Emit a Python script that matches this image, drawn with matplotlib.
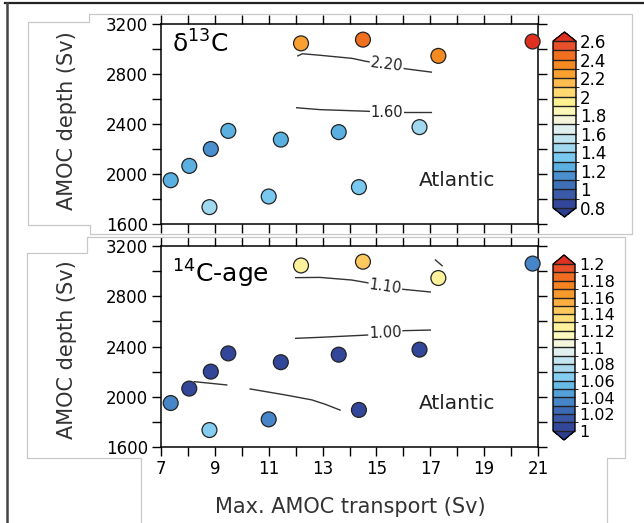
import numpy as np
import matplotlib
matplotlib.use("Agg")
import matplotlib.pyplot as plt
from matplotlib.colors import ListedColormap, LinearSegmentedColormap, BoundaryNorm
from matplotlib.lines import Line2D
from matplotlib.ticker import FormatStrFormatter

# model points (shared positions)
amoc_transport = [7.36, 8.05, 8.8, 8.85, 9.5, 11.45, 11.0, 12.2, 14.5, 17.3, 20.8, 13.6, 16.6, 14.35]
amoc_depth = [1950, 2065, 1735, 2200, 2345, 2275, 1820, 3045, 3075, 2945, 3060, 2335, 2375, 1895]

# colour values
d13c = [1.25, 1.25, 1.45, 1.15, 1.25, 1.25, 1.35, 2.25, 2.45, 2.35, 2.65, 1.25, 1.45, 1.35]
c14_age = [1.035, 1.005, 1.065, 1.005, 1.005, 1.005, 1.035, 1.125, 1.14, 1.125, 1.035, 1.005, 1.005, 1.005]

d13c_levels = np.round(np.arange(0.8, 2.61, 0.1), 2)
d13c_ticks = np.round(np.arange(0.8, 2.61, 0.2), 2)
c14_levels = np.round(np.arange(1.0, 1.201, 0.01), 3)
c14_ticks = np.round(np.arange(1.0, 1.201, 0.02), 3)

# contour lines
d13c_c220_x = [12.08, 12.25, 12.9, 14.1, 14.6, 15.4, 16.07, 17.04]
d13c_c220_y = [2945, 2962, 2950, 2925, 2902, 2872, 2842, 2815]
d13c_c160_x = [12.04, 12.9, 14.65, 15.35, 16.07, 17.04]
d13c_c160_y = [2530, 2515, 2502, 2495, 2492, 2492]

c14_c110_x = [12.0, 12.9, 14.09, 14.6, 15.33, 16.0, 17.0]
c14_c110_y = [2948, 2950, 2929, 2910, 2876, 2855, 2834]
c14_c110b_x = [17.19, 17.44]
c14_c110b_y = [3089, 3043]
c14_c100_x = [12.0, 12.9, 14.65, 15.33, 16.0, 17.0]
c14_c100_y = [2465, 2473, 2491, 2505, 2526, 2531]
c14_low1_x = [8.24, 9.44]
c14_low1_y = [2120, 2094]
c14_low2_x = [10.31, 11.6, 12.6, 13.1, 13.65]
c14_low2_y = [2062, 2015, 1975, 1940, 1894]

cmap_cols = ['#33479a', '#3a5aa8', '#3e70b8', '#4a90d0', '#5ab0e0', '#78c8f0',
             '#a0d8f0', '#c0e4f0', '#e0f0f0', '#f5f5dc', '#fef8b8', '#fdf090',
             '#fed870', '#fdbb50', '#faa030', '#f58a20', '#f07020', '#e8502a']

W, H = 644, 523


def fx(px):
    return px / W


def fy(py):
    return 1 - py / H


def make_cmap(n):
    if n == len(cmap_cols):
        cm = ListedColormap(cmap_cols)
    else:
        base = LinearSegmentedColormap.from_list("b2r", cmap_cols)
        cm = ListedColormap(base(np.linspace(0, 1, n)))
    cm.set_under('#2c3e90')
    cm.set_over('#e03020')
    return cm


def style_axes(ax, show_x):
    ax.set_xlim(7, 21)
    ax.set_ylim(1600, 3200)
    ax.set_xticks(np.arange(7, 22, 2))
    ax.set_xticks(np.arange(8, 21, 2), minor=True)
    ax.set_yticks(np.arange(1600, 3201, 400))
    ax.set_yticks(np.arange(1800, 3100, 400), minor=True)
    ax.tick_params(which='both', direction='out', length=6.5, width=1,
                   top=True, right=True, labelsize=12, pad=3,
                   labelbottom=show_x)
    for s in ax.spines.values():
        s.set_linewidth(1.1)


fig = plt.figure(figsize=(W / 100, H / 100), dpi=100)

# decorative frame and grey panels
fig.add_artist(Line2D([fx(5), fx(644)], [fy(3), fy(3)], color='#222222', lw=1.6))
fig.add_artist(Line2D([fx(7), fx(7)], [fy(3), fy(523)], color='#444444', lw=1.8))
grey = '#c8c8c8'
fig.add_artist(Line2D([fx(p) for p in [90, 28, 28, 89, 89, 632, 632, 90, 90]],
                      [fy(p) for p in [225, 225, 22, 22, 14, 14, 234, 234, 225]],
                      color=grey, lw=0.9))
fig.add_artist(Line2D([fx(p) for p in [141, 141, 27, 27, 87, 87, 625, 625, 607, 607]],
                      [fy(p) for p in [523, 458, 458, 253, 253, 237, 237, 458, 458, 523]],
                      color=grey, lw=0.9))

ax1 = fig.add_axes([fx(161), fy(224), (538 - 161) / W, 200 / H])
ax2 = fig.add_axes([fx(161), fy(447), (538 - 161) / W, 201 / H])
cax1 = fig.add_axes([fx(553), fy(217), 23 / W, 185 / H])
cax2 = fig.add_axes([fx(553), fy(440), 22 / W, 185 / H])

panels = [
    (ax1, cax1, d13c, d13c_levels, d13c_ticks, r'$\mathregular{\delta^{13}C}$', 12, False),
    (ax2, cax2, c14_age, c14_levels, c14_ticks, r'$\mathregular{^{14}C}$-age', 11.5, True),
]

for ax, cax, vals, levels, ticks, title, cb_fs, show_x in panels:
    style_axes(ax, show_x)
    cmap = make_cmap(len(levels) - 1)
    norm = BoundaryNorm(levels, len(levels) - 1)
    sc = ax.scatter(amoc_transport, amoc_depth, c=vals, cmap=cmap, norm=norm,
                    s=115, edgecolors='#222222', linewidths=0.9, zorder=3, clip_on=False)
    cb = fig.colorbar(sc, cax=cax, extend='both', drawedges=True, ticks=ticks,
                      extendfrac=0.055)
    cb.ax.yaxis.set_major_formatter(FormatStrFormatter('%g'))
    cb.ax.tick_params(length=0, labelsize=cb_fs, pad=3)
    cb.outline.set_linewidth(1)
    cb.dividers.set_linewidth(1)
    cb.dividers.set_color('#222222')
    ax.text(7.42, 3040 if not show_x else 2975, title, fontsize=18, ha='left', va='center')
    ax.text(18.0, 1950, 'Atlantic', fontsize=14.5, ha='center', va='center', color='#222222')

# contour lines
lbl = dict(fontsize=10.5, ha='center', va='center', color='#222222',
           bbox=dict(facecolor='white', edgecolor='none', pad=0.5))
ax1.plot(d13c_c220_x, d13c_c220_y, color='#333333', lw=1)
ax1.text(15.38, 2872, '2.20', rotation=-7, **lbl)
ax1.plot(d13c_c160_x, d13c_c160_y, color='#333333', lw=1)
ax1.text(15.38, 2492, '1.60', rotation=0, **lbl)

ax2.plot(c14_c110_x, c14_c110_y, color='#333333', lw=1)
ax2.plot(c14_c110b_x, c14_c110b_y, color='#333333', lw=1)
ax2.text(15.33, 2878, '1.10', rotation=-8, **lbl)
ax2.plot(c14_c100_x, c14_c100_y, color='#333333', lw=1)
ax2.text(15.33, 2505, '1.00', rotation=2, **lbl)
ax2.plot(c14_low1_x, c14_low1_y, color='#333333', lw=1)
ax2.plot(c14_low2_x, c14_low2_y, color='#333333', lw=1)

# axis labels
fig.text(fx(67), fy(121), 'AMOC depth (Sv)', rotation=90, fontsize=15,
         ha='center', va='center', color='#333333')
fig.text(fx(67), fy(350), 'AMOC depth (Sv)', rotation=90, fontsize=15,
         ha='center', va='center', color='#333333')
fig.text(fx(350), fy(507), 'Max. AMOC transport (Sv)', fontsize=15,
         ha='center', va='center', color='#333333')

fig.savefig('out.png', dpi=100)
